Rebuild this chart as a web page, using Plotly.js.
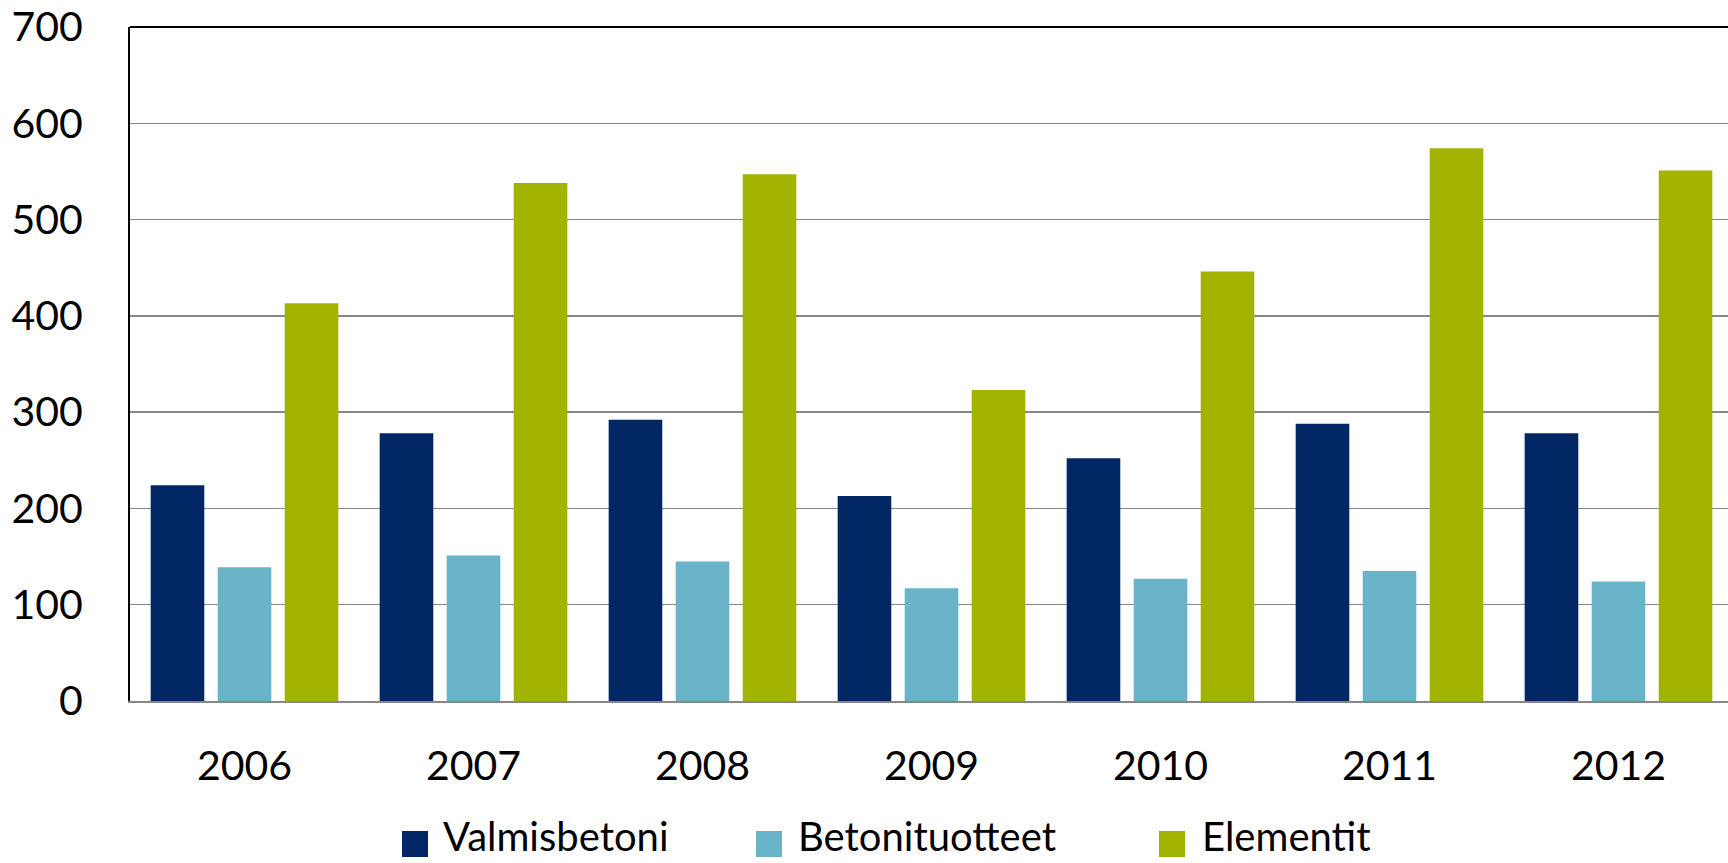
<!DOCTYPE html>
<html>
<head>
<meta charset="utf-8">
<script src="https://cdn.plot.ly/plotly-3.0.1.min.js"></script>
<style>
  html, body { margin: 0; padding: 0; background: #fff; overflow: hidden; }
  #chart { width: 1735px; height: 863px; }
</style>
</head>
<body>
<div id="chart"></div>
<script>
// ---- data ----
const years = ['2006', '2007', '2008', '2009', '2010', '2011', '2012'];
const valmisbetoni = [224, 278, 292, 213, 252, 288, 278];
const betonituotteet = [139, 151, 145, 117, 127, 135, 124];
const elementit = [413, 538, 547, 323, 446, 574, 551];
const seriesNames = ['Valmisbetoni', 'Betonituotteet', 'Elementit'];
const yTicks = [0, 100, 200, 300, 400, 500, 600, 700];

// ---- styling ----
const colors = ['#002664', '#69B4C8', '#A2B400'];
const FONT = 'Lato, "Open Sans", sans-serif';
const W = 1735, H = 863;
const M = { l: 130, r: 2, t: 27, b: 162 };
const plotW = W - M.l - M.r, plotH = H - M.t - M.b;
const px2x = px => (px - M.l) / plotW;
const py2y = py => (H - M.b - py) / plotH;

const seriesValues = [valmisbetoni, betonituotteet, elementit];
const traces = seriesNames.map((name, i) => ({
  type: 'bar',
  name: name,
  x: years,
  y: seriesValues[i],
  marker: { color: colors[i], line: { width: 0 } },
  showlegend: false,
  hoverinfo: 'x+y+name'
}));

// manual legend (large square swatches like the original)
const legendMarkerX = [402, 756, 1159];
const legendTextX = [441, 796, 1200];
const swatchCenterY = 844;
const textBottomY = 862;
const swatch = 26;
const shapes = [
  { type: 'line', xref: 'paper', yref: 'paper', x0: 0, x1: 1, y0: 1, y1: 1,
    line: { color: '#000', width: 2 } }
];
const annotations = [];
seriesNames.forEach((name, i) => {
  shapes.push({
    type: 'rect', xref: 'paper', yref: 'paper',
    x0: px2x(legendMarkerX[i]), x1: px2x(legendMarkerX[i] + swatch),
    y0: py2y(swatchCenterY + swatch / 2), y1: py2y(swatchCenterY - swatch / 2),
    fillcolor: colors[i], line: { width: 0 }
  });
  annotations.push({
    xref: 'paper', yref: 'paper',
    x: px2x(legendTextX[i]), y: py2y(textBottomY),
    xanchor: 'left', yanchor: 'bottom',
    text: name, showarrow: false,
    font: { family: FONT, size: 40, color: '#000' }
  });
});

const layout = {
  width: W, height: H,
  margin: M,
  paper_bgcolor: '#fff', plot_bgcolor: '#fff',
  font: { family: FONT, color: '#000' },
  barmode: 'group',
  bargap: 0.122,
  bargroupgap: 0.2,
  showlegend: false,
  xaxis: {
    type: 'category',
    range: [-0.5, 6.5],
    showline: true, linecolor: '#878787', linewidth: 2,
    showgrid: false, zeroline: false,
    ticks: '', ticklabelstandoff: 28,
    tickfont: { family: FONT, size: 41, color: '#000' },
    fixedrange: true
  },
  yaxis: {
    range: [0, 700],
    tickvals: yTicks,
    ticktext: yTicks.map(String),
    showline: true, linecolor: '#000', linewidth: 2,
    showgrid: true, gridcolor: '#878787', gridwidth: 1.5,
    zeroline: false,
    ticks: '', ticklabelstandoff: 37,
    tickfont: { family: FONT, size: 41, color: '#000' },
    fixedrange: true
  },
  shapes: shapes,
  annotations: annotations
};

Plotly.newPlot('chart', traces, layout, { displayModeBar: false, staticPlot: true });
</script>
</body>
</html>
